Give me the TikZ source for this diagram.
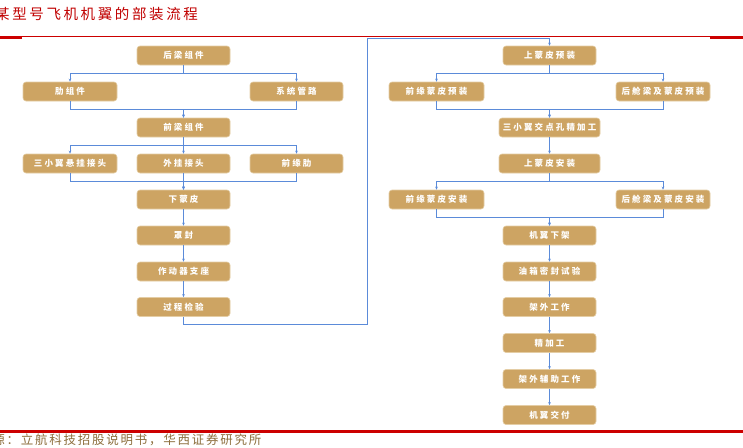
\documentclass[tikz,border=0pt]{standalone}
\usepackage{fontspec}
\usetikzlibrary{arrows.meta,calc}
\newfontfamily\cjkbox[LetterSpace=25]{Noto Sans CJK SC}
\newfontfamily\cjktitle[LetterSpace=18]{Noto Sans CJK SC}
\newfontfamily\cjksrc[LetterSpace=14]{Noto Sans CJK SC}
\definecolor{boxfill}{RGB}{205,164,99}
\definecolor{boxedge}{RGB}{228,205,165}
\definecolor{linkblue}{RGB}{91,139,217}
\definecolor{titlered}{RGB}{192,0,0}
\definecolor{rulered}{RGB}{204,0,0}
\definecolor{srcbrown}{RGB}{140,110,60}
\tikzset{
  box/.style={draw=boxedge, line width=0.6pt, fill=boxfill, rounded corners=3pt,
    minimum height=19pt, minimum width=93pt, inner sep=0pt, text=white,
    font=\cjkbox\bfseries\fontsize{8.5}{10}\selectfont},
  link/.style={draw=linkblue, line width=0.8pt},
  arr/.style={link, -{Stealth[length=3pt,width=2.6pt]}},
}
\begin{document}
\begin{tikzpicture}[x=1pt,y=-1pt]
\useasboundingbox (0,0) rectangle (743,447);
% title and rules
\node[anchor=west, inner sep=0pt, text=titlered, font=\cjktitle\fontsize{14.5}{16}\selectfont] (title) at (-5,14) {某型号飞机机翼的部装流程};
\draw[rulered, line width=0.8pt] (0,36.5) -- (743,36.5);
\fill[rulered] (0,36) rectangle (22,38.5);
\fill[rulered] (710,36) rectangle (743,38.5);
\fill[rulered] (0,430) rectangle (743,432.5);
\node[anchor=west, inner sep=0pt, text=srcbrown, font=\cjksrc\fontsize{12.5}{14}\selectfont] (src) at (-22,440) {来源：立航科技招股说明书，华西证券研究所};

% left column
\node[box] (a1) at (183.5,55.5) {后梁组件};
\node[box, minimum width=94pt] (b1) at (70,91.5) {肋组件};
\node[box] (b2) at (296.5,91.5) {系统管路};
\node[box] (c1) at (183.5,127.5) {前梁组件};
\node[box, minimum width=94pt] (d1) at (70,163.5) {三小翼悬挂接头};
\node[box] (d2) at (183.5,163.5) {外挂接头};
\node[box] (d3) at (296.5,163.5) {前缘肋};
\node[box] (e1) at (183.5,199.5) {下蒙皮};
\node[box] (f1) at (183.5,235.5) {罩封};
\node[box] (g1) at (183.5,271.5) {作动器支座};
\node[box] (h1) at (183.5,307) {过程检验};

% right column
\node[box] (r0) at (549.5,55.5) {上蒙皮预装};
\node[box, minimum width=95pt] (s1) at (436.5,91.5) {前缘蒙皮预装};
\node[box, minimum width=94pt] (s2) at (663,91.5) {后舱梁及蒙皮预装};
\node[box, minimum width=101pt] (t1) at (549.5,127.5) {三小翼交点孔精加工};
\node[box, minimum width=101pt] (u1) at (549.5,163.5) {上蒙皮安装};
\node[box, minimum width=95pt] (v1) at (436.5,199.5) {前缘蒙皮安装};
\node[box, minimum width=94pt] (v2) at (663,199.5) {后舱梁及蒙皮安装};
\node[box] (w1) at (549.5,235.5) {机翼下架};
\node[box] (x1) at (549.5,271.5) {油箱密封试验};
\node[box] (y1) at (549.5,307) {架外工作};
\node[box] (z1) at (549.5,343) {精加工};
\node[box] (z2) at (549.5,379) {架外辅助工作};
\node[box] (z3) at (549.5,415) {机翼交付};

% left connectors
\draw[arr] (a1.south) |- ($(a1.south)!.5!(b1.north)$) -| (b1.north);
\draw[arr] (a1.south) |- ($(a1.south)!.5!(b2.north)$) -| (b2.north);
\draw[arr] (b1.south) |- ($(b1.south)!.5!(c1.north)$) -| (c1.north);
\draw[arr] (b2.south) |- ($(b2.south)!.5!(c1.north)$) -| (c1.north);
\draw[arr] (c1.south) |- ($(c1.south)!.5!(d1.north)$) -| (d1.north);
\draw[arr] (c1.south) |- ($(c1.south)!.5!(d3.north)$) -| (d3.north);
\draw[arr] (c1) -- (d2);
\draw[arr] (d1.south) |- ($(d1.south)!.5!(e1.north)$) -| (e1.north);
\draw[arr] (d3.south) |- ($(d3.south)!.5!(e1.north)$) -| (e1.north);
\draw[arr] (d2) -- (e1);
\draw[arr] (e1) -- (f1);
\draw[arr] (f1) -- (g1);
\draw[arr] (g1) -- (h1);

% loop to right column
\coordinate (loopB) at (367,324);
\coordinate (loopT) at (367,38);
\draw[arr] (h1.south) |- (loopB) -- (loopT) -| (r0.north);

% right connectors
\draw[arr] (r0.south) |- ($(r0.south)!.5!(s1.north)$) -| (s1.north);
\draw[arr] (r0.south) |- ($(r0.south)!.5!(s2.north)$) -| (s2.north);
\draw[arr] (s1.south) |- ($(s1.south)!.5!(t1.north)$) -| (t1.north);
\draw[arr] (s2.south) |- ($(s2.south)!.5!(t1.north)$) -| (t1.north);
\draw[arr] (t1) -- (u1);
\draw[arr] (u1.south) |- ($(u1.south)!.5!(v1.north)$) -| (v1.north);
\draw[arr] (u1.south) |- ($(u1.south)!.5!(v2.north)$) -| (v2.north);
\draw[arr] (v1.south) |- ($(v1.south)!.5!(w1.north)$) -| (w1.north);
\draw[arr] (v2.south) |- ($(v2.south)!.5!(w1.north)$) -| (w1.north);
\draw[arr] (w1) -- (x1);
\draw[arr] (x1) -- (y1);
\draw[arr] (y1) -- (z1);
\draw[arr] (z1) -- (z2);
\draw[arr] (z2) -- (z3);
\end{tikzpicture}
\end{document}
